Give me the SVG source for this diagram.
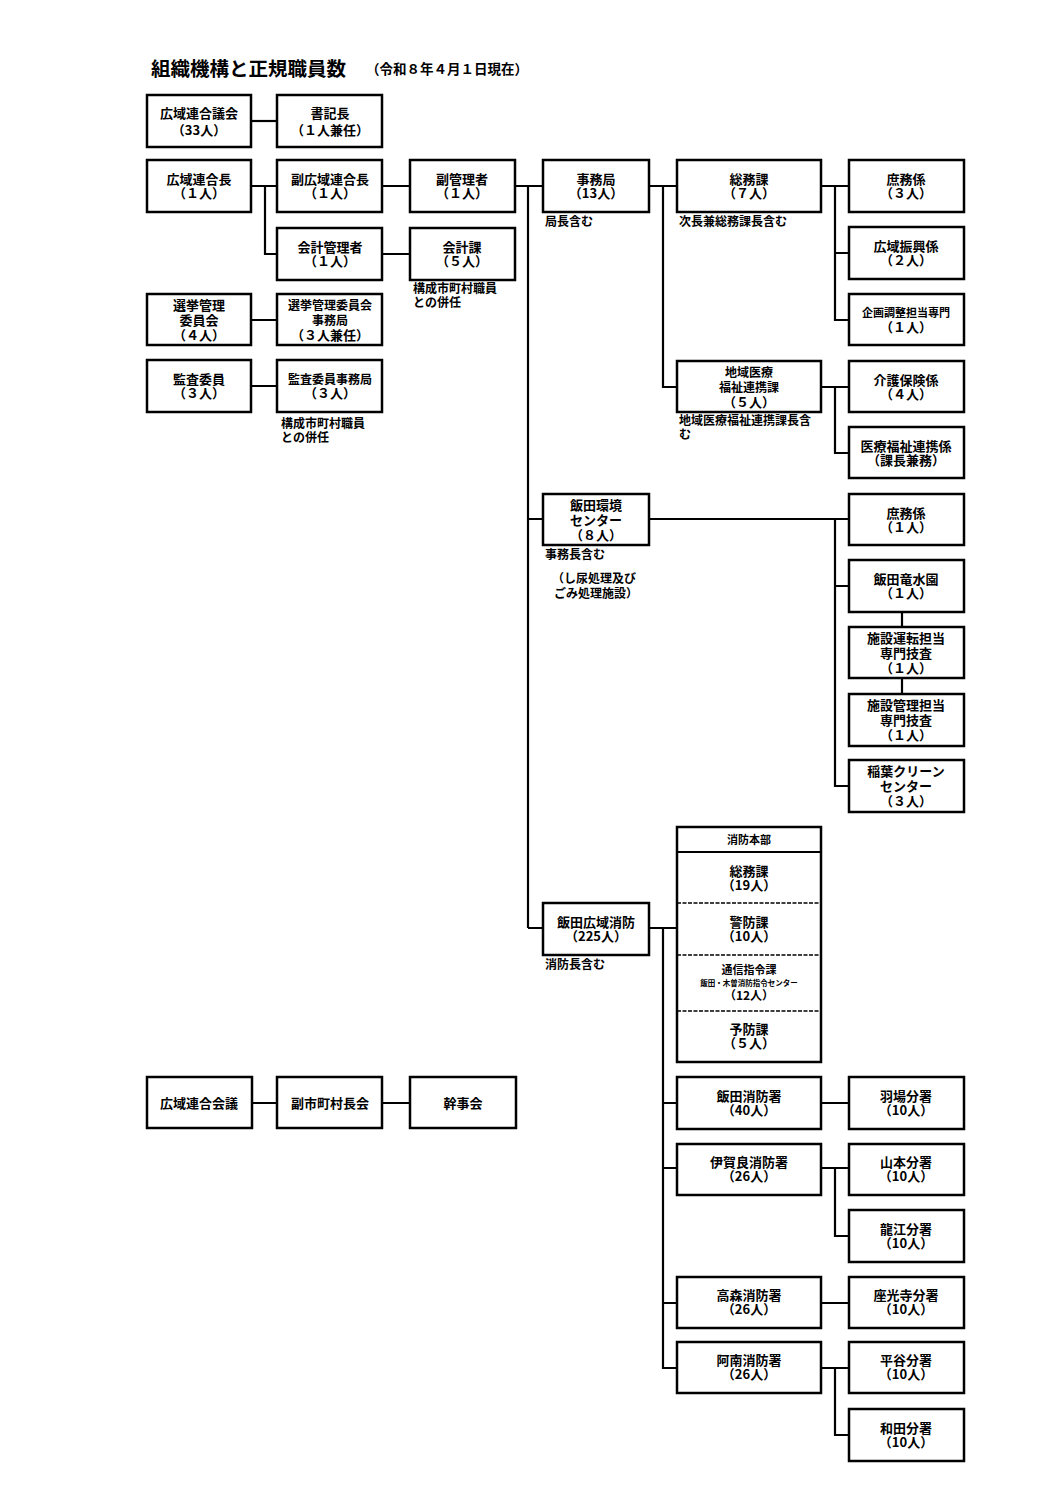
<svg xmlns="http://www.w3.org/2000/svg" width="1058" height="1497" viewBox="0 0 1058 1497">
<style>
.box{fill:#fff;stroke:#000;stroke-width:2.5}
.c{stroke:#000;stroke-width:2.2;fill:none}
.dash{stroke:#000;stroke-width:1.6;stroke-dasharray:4 1.5;fill:none}
text{font-family:"Noto Sans CJK JP","Noto Sans CJK SC",sans-serif;font-weight:bold;fill:#000}
.t{font-size:13px;text-anchor:middle}
.m{font-size:12px;text-anchor:middle}
.s{font-size:11px;text-anchor:middle}
.n{font-size:12px;text-anchor:start}
</style>
<rect width="1058" height="1497" fill="#fff"/>
<g id="title">
<text x="151" y="76" style="font-size:19.5px">組織機構と正規職員数</text>
<text x="366" y="74" style="font-size:13.5px">（令和８年４月１日現在）</text>
</g>
<g id="connectors">
<path class="c" d="M251 121H277"/>
<path class="c" d="M251 186H277M265 186V254H277M382 186H410M382 254H410M515 186H543"/>
<path class="c" d="M528 186V928M528 519H543M528 928H543"/>
<path class="c" d="M251 320H277M251 386H277"/>
<path class="c" d="M649 186H677M663 186V387H677"/>
<path class="c" d="M821 186H849M835 186V320H849M835 253H849"/>
<path class="c" d="M821 387H849M835 387V453H849"/>
<path class="c" d="M649 519H849M835 519V786H849M835 586H849M902 612V627M902 678V694"/>
<path class="c" d="M649 928H677M663 928V1368H677M663 1103H677M663 1168H677M663 1303H677"/>
<path class="c" d="M821 1103H849M821 1168H849M835 1168V1236H849M821 1303H849M821 1368H849M835 1368V1435H849"/>
<path class="c" d="M252 1103H277M382 1103H410"/>
</g>
<g id="gikai"><rect class="box" x="147" y="95" width="104" height="52"/><text class="t"><tspan x="199" y="118">広域連合議会</tspan><tspan x="199" y="135">（33人）</tspan></text></g>
<g id="shokicho"><rect class="box" x="277" y="95" width="105" height="52"/><text class="t"><tspan x="330" y="118">書記長</tspan><tspan x="330" y="135">（１人兼任）</tspan></text></g>
<g id="rengocho"><rect class="box" x="147" y="160" width="104" height="52"/><text class="t"><tspan x="199" y="184">広域連合長</tspan><tspan x="199" y="198">（１人）</tspan></text></g>
<g id="fukurengocho"><rect class="box" x="277" y="160" width="105" height="52"/><text class="t"><tspan x="330" y="184">副広域連合長</tspan><tspan x="330" y="198">（１人）</tspan></text></g>
<g id="fukukanrisha"><rect class="box" x="410" y="160" width="105" height="52"/><text class="t"><tspan x="462" y="184">副管理者</tspan><tspan x="462" y="198">（１人）</tspan></text></g>
<g id="jimukyoku"><rect class="box" x="543" y="160" width="106" height="52"/><text class="t"><tspan x="596" y="184">事務局</tspan><tspan x="596" y="198">（13人）</tspan></text><text class="n" x="545" y="226">局長含む</text></g>
<g id="somuka"><rect class="box" x="677" y="160" width="144" height="52"/><text class="t"><tspan x="749" y="184">総務課</tspan><tspan x="749" y="198">（７人）</tspan></text><text class="n" x="679" y="226">次長兼総務課長含む</text></g>
<g id="shomugakari1"><rect class="box" x="849" y="160" width="115" height="52"/><text class="t"><tspan x="906" y="184">庶務係</tspan><tspan x="906" y="198">（３人）</tspan></text></g>
<g id="kouikishinko"><rect class="box" x="849" y="227" width="115" height="52"/><text class="t"><tspan x="906" y="251">広域振興係</tspan><tspan x="906" y="265">（２人）</tspan></text></g>
<g id="kikaku"><rect class="box" x="849" y="294" width="115" height="51"/><text class="t"><tspan x="906" y="317" style="font-size:11px">企画調整担当専門</tspan><tspan x="906" y="332">（１人）</tspan></text></g>
<g id="kaikeikanrisha"><rect class="box" x="277" y="228" width="105" height="52"/><text class="t"><tspan x="330" y="252">会計管理者</tspan><tspan x="330" y="266">（１人）</tspan></text></g>
<g id="kaikeika"><rect class="box" x="410" y="228" width="105" height="52"/><text class="t"><tspan x="462" y="252">会計課</tspan><tspan x="462" y="266">（５人）</tspan></text><text class="n"><tspan x="413" y="293">構成市町村職員</tspan><tspan x="413" y="307">との併任</tspan></text></g>
<g id="senkyo"><rect class="box" x="147" y="294" width="104" height="51"/><text class="t"><tspan x="199" y="310">選挙管理</tspan><tspan x="199" y="325">委員会</tspan><tspan x="199" y="340">（４人）</tspan></text></g>
<g id="senkyojimu"><rect class="box" x="277" y="294" width="105" height="51"/><text class="m"><tspan x="330" y="310">選挙管理委員会</tspan><tspan x="330" y="325">事務局</tspan><tspan x="330" y="340" style="font-size:13px">（３人兼任）</tspan></text></g>
<g id="kansa"><rect class="box" x="147" y="360" width="104" height="52"/><text class="t"><tspan x="199" y="384">監査委員</tspan><tspan x="199" y="398">（３人）</tspan></text></g>
<g id="kansajimu"><rect class="box" x="277" y="360" width="105" height="52"/><text class="m"><tspan x="330" y="384">監査委員事務局</tspan><tspan x="330" y="398" style="font-size:13px">（３人）</tspan></text><text class="n"><tspan x="281" y="428">構成市町村職員</tspan><tspan x="281" y="442">との併任</tspan></text></g>
<g id="chiiki"><rect class="box" x="677" y="361" width="144" height="51"/><text class="m"><tspan x="749" y="377">地域医療</tspan><tspan x="749" y="392">福祉連携課</tspan><tspan x="749" y="407" style="font-size:13px">（５人）</tspan></text><text class="n"><tspan x="679" y="425">地域医療福祉連携課長含</tspan><tspan x="679" y="439">む</tspan></text></g>
<g id="kaigo"><rect class="box" x="849" y="361" width="115" height="51"/><text class="t"><tspan x="906" y="385">介護保険係</tspan><tspan x="906" y="399">（４人）</tspan></text></g>
<g id="iryo"><rect class="box" x="849" y="427" width="115" height="51"/><text class="t"><tspan x="906" y="451">医療福祉連携係</tspan><tspan x="906" y="465">（課長兼務）</tspan></text></g>
<g id="kankyo"><rect class="box" x="543" y="494" width="106" height="51"/><text class="t"><tspan x="596" y="510">飯田環境</tspan><tspan x="596" y="525">センター</tspan><tspan x="596" y="540">（８人）</tspan></text><text class="n"><tspan x="545" y="559">事務長含む</tspan><tspan x="552" y="583">（し尿処理及び</tspan><tspan x="554" y="598">ごみ処理施設）</tspan></text></g>
<g id="shomugakari2"><rect class="box" x="849" y="494" width="115" height="51"/><text class="t"><tspan x="906" y="518">庶務係</tspan><tspan x="906" y="532">（１人）</tspan></text></g>
<g id="ryusuien"><rect class="box" x="849" y="560" width="115" height="52"/><text class="t"><tspan x="906" y="584">飯田竜水園</tspan><tspan x="906" y="598">（１人）</tspan></text></g>
<g id="unten"><rect class="box" x="849" y="627" width="115" height="51"/><text class="t"><tspan x="906" y="643">施設運転担当</tspan><tspan x="906" y="658">専門技査</tspan><tspan x="906" y="673">（１人）</tspan></text></g>
<g id="shisetsukanri"><rect class="box" x="849" y="694" width="115" height="52"/><text class="t"><tspan x="906" y="710">施設管理担当</tspan><tspan x="906" y="725">専門技査</tspan><tspan x="906" y="740">（１人）</tspan></text></g>
<g id="inaba"><rect class="box" x="849" y="760" width="115" height="52"/><text class="t"><tspan x="906" y="776">稲葉クリーン</tspan><tspan x="906" y="791">センター</tspan><tspan x="906" y="806">（３人）</tspan></text></g>
<g id="shobo"><rect class="box" x="543" y="903" width="106" height="52"/><text class="t"><tspan x="596" y="927">飯田広域消防</tspan><tspan x="596" y="941">（225人）</tspan></text><text class="n" x="545" y="969">消防長含む</text></g>
<g id="honbu">
<rect class="box" x="677" y="827" width="144" height="235"/>
<path class="c" d="M677 852H821" style="stroke-width:1.8"/>
<path class="dash" d="M677 903H821M677 955H821M677 1011H821"/>
<text class="s" x="749" y="844">消防本部</text>
<text class="t"><tspan x="749" y="876">総務課</tspan><tspan x="749" y="890">（19人）</tspan></text>
<text class="t"><tspan x="749" y="927">警防課</tspan><tspan x="749" y="941">（10人）</tspan></text>
<text class="s"><tspan x="749" y="974">通信指令課</tspan><tspan x="749" y="986" style="font-size:7.5px">飯田・木曽消防指令センター</tspan><tspan x="749" y="1000" style="font-size:12px">（12人）</tspan></text>
<text class="t"><tspan x="749" y="1034">予防課</tspan><tspan x="749" y="1048">（５人）</tspan></text>
</g>
<g id="iidasho"><rect class="box" x="677" y="1077" width="144" height="52"/><text class="t"><tspan x="749" y="1101">飯田消防署</tspan><tspan x="749" y="1115">（40人）</tspan></text></g>
<g id="haba"><rect class="box" x="849" y="1077" width="115" height="52"/><text class="t"><tspan x="906" y="1101">羽場分署</tspan><tspan x="906" y="1115">（10人）</tspan></text></g>
<g id="igarasho"><rect class="box" x="677" y="1144" width="144" height="51"/><text class="t"><tspan x="749" y="1167">伊賀良消防署</tspan><tspan x="749" y="1181">（26人）</tspan></text></g>
<g id="yamamoto"><rect class="box" x="849" y="1144" width="115" height="51"/><text class="t"><tspan x="906" y="1167">山本分署</tspan><tspan x="906" y="1181">（10人）</tspan></text></g>
<g id="tatsue"><rect class="box" x="849" y="1210" width="115" height="52"/><text class="t"><tspan x="906" y="1234">龍江分署</tspan><tspan x="906" y="1248">（10人）</tspan></text></g>
<g id="takamorisho"><rect class="box" x="677" y="1277" width="144" height="51"/><text class="t"><tspan x="749" y="1300">高森消防署</tspan><tspan x="749" y="1314">（26人）</tspan></text></g>
<g id="zakoji"><rect class="box" x="849" y="1277" width="115" height="51"/><text class="t"><tspan x="906" y="1300">座光寺分署</tspan><tspan x="906" y="1314">（10人）</tspan></text></g>
<g id="anansho"><rect class="box" x="677" y="1342" width="144" height="51"/><text class="t"><tspan x="749" y="1365">阿南消防署</tspan><tspan x="749" y="1379">（26人）</tspan></text></g>
<g id="hiraya"><rect class="box" x="849" y="1342" width="115" height="51"/><text class="t"><tspan x="906" y="1365">平谷分署</tspan><tspan x="906" y="1379">（10人）</tspan></text></g>
<g id="wada"><rect class="box" x="849" y="1409" width="115" height="52"/><text class="t"><tspan x="906" y="1433">和田分署</tspan><tspan x="906" y="1447">（10人）</tspan></text></g>
<g id="kaigi"><rect class="box" x="147" y="1077" width="105" height="51"/><text class="t" x="199" y="1108">広域連合会議</text></g>
<g id="fukushichoson"><rect class="box" x="277" y="1077" width="105" height="51"/><text class="t" x="330" y="1108">副市町村長会</text></g>
<g id="kanjikai"><rect class="box" x="410" y="1077" width="106" height="51"/><text class="t" x="463" y="1108">幹事会</text></g>
</svg>
